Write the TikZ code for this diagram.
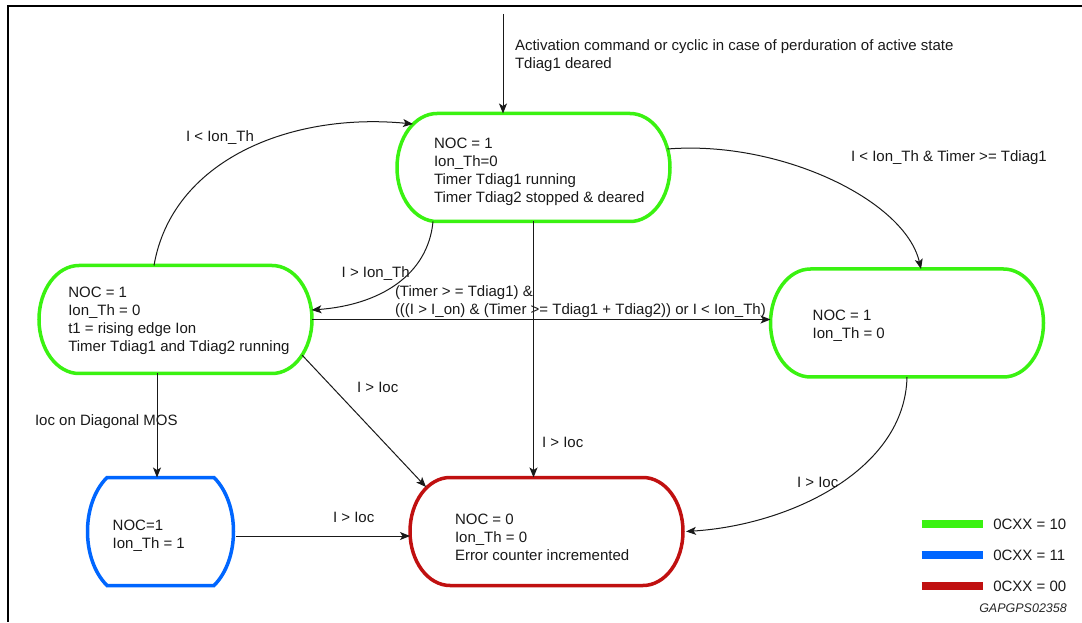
\documentclass[tikz,border=0pt]{standalone}
\usepackage{fontspec}
\setmainfont{Liberation Sans}
\usetikzlibrary{arrows.meta,calc}
\definecolor{stgreen}{RGB}{58,242,17}
\definecolor{stblue}{RGB}{0,102,255}
\definecolor{stred}{RGB}{192,16,16}
\newcommand\firststrut{\vrule height 12pt width 0pt depth 0pt\relax}
\newcommand\stadiumpath[2]{%
 \draw[line width=3.5pt,#2] ([xshift=40pt]#1.north west) -- ([xshift=-40pt]#1.north east)
   arc[start angle=90,end angle=-90,x radius=40pt,y radius=54pt]
   -- ([xshift=40pt]#1.south west)
   arc[start angle=270,end angle=90,x radius=40pt,y radius=54pt] -- cycle;}
\begin{document}
\begin{tikzpicture}[x=1pt,y=1pt,
  shapebox/.style={rectangle,minimum width=273pt,minimum height=108pt,inner sep=0pt,outer sep=0pt},
  txt/.style={font=\fontsize{15}{18}\selectfont,inner sep=0pt,outer sep=0pt,align=left,text=black!90},
  conn/.style={line width=1pt,draw=black!90,-{Stealth[length=10pt,width=8pt,inset=2.5pt]}},
  legbar/.style={line width=8pt}]
\useasboundingbox (0,0) rectangle (1082,622);
% frame
\draw[line width=2pt] (1082,616) -- (8,616) -- (8,0);
% state boxes
\node[shapebox] (s0) at (533.5,454.5) {};
\node[shapebox] (s1) at (175.5,302.5) {};
\node[shapebox] (s2) at (907,299) {};
\node[shapebox,minimum width=151pt] (s3) at (160.5,90.5) {};
\node[shapebox] (s4) at (546.5,90.5) {};
\stadiumpath{s0}{stgreen}
\stadiumpath{s1}{stgreen}
\stadiumpath{s2}{stgreen}
\stadiumpath{s4}{stred}
\draw[line width=3.5pt,stblue] ([xshift=22pt]s3.north west) -- ([xshift=-22pt]s3.north east)
  .. controls ([xshift=4pt,yshift=-26pt]s3.north east) and ([xshift=4pt,yshift=26pt]s3.south east) .. ([xshift=-22pt]s3.south east)
  -- ([xshift=22pt]s3.south west)
  .. controls ([xshift=-4pt,yshift=26pt]s3.south west) and ([xshift=-4pt,yshift=-26pt]s3.north west) .. cycle;
% state texts
\node[txt,anchor=north west] (s0t) at (434,485.9) {\firststrut NOC = 1\\Ion\_Th=0\\Timer Tdiag1 running\\Timer Tdiag2 stopped \& deared};
\node[txt,anchor=north west] (s1t) at (68.3,336.9) {\firststrut NOC = 1\\Ion\_Th = 0\\t1 = rising edge Ion\\Timer Tdiag1 and Tdiag2 running};
\node[txt,anchor=north west] (s2t) at (812.7,313.6) {\firststrut NOC = 1\\Ion\_Th = 0};
\node[txt,anchor=north west] (s3t) at (112.7,103.6) {\firststrut NOC=1\\Ion\_Th = 1};
\node[txt,anchor=north west] (s4t) at (455,109.6) {\firststrut NOC = 0\\Ion\_Th = 0\\Error counter incremented};
% entry
\coordinate (entry) at (503,608);
\draw[conn] (entry) -- (entry |- s0.north);
\node[txt,anchor=north west] (lact) at (515,583.6) {\firststrut Activation command or cyclic in case of perduration of active state\\Tdiag1 deared};
% transitions
\draw[conn] ([xshift=-21.5pt]s1.north) .. controls +(18,105) and +(-123,12) .. ([xshift=-120.5pt,yshift=43.5pt]s0.center);
\node[txt,anchor=base west] (l1) at (186,480.6) {I < Ion\_Th};
\draw[conn] ([xshift=134pt,yshift=18.5pt]s0.center) .. controls +(112,9) and +(-16,69) .. ([xshift=14pt]s2.north);
\node[txt,anchor=base west] (l2) at (851,460.6) {I < Ion\_Th \& Timer >= Tdiag1};
\draw[conn] ([xshift=-100.5pt]s0.south) .. controls +(-5,-53.5) and +(68.5,5) .. ([xshift=136pt,yshift=9.5pt]s1.center);
\node[txt,anchor=base west] (l3) at (341.7,344.9) {I > Ion\_Th};
\draw[conn] (s1.east) -- (s1.east -| s2.west);
\node[txt,anchor=north west] (l4) at (395,337.9) {\firststrut (Timer > = Tdiag1) \&\\(((I > I\_on) \& (Timer >= Tdiag1 + Tdiag2)) or I < Ion\_Th)};
\draw[conn] (s0.south) -- (s0.south |- s4.north);
\node[txt,anchor=base west] (l5) at (542,174.6) {I > Ioc};
\coordinate (s3top) at ([xshift=-3.5pt]s3.north);
\draw[conn] (s3top |- s1.south) -- (s3top);
\node[txt,anchor=base west] (l6) at (35,196.6) {Ioc on Diagonal MOS};
\draw[conn] ([xshift=126.5pt,yshift=-35.5pt]s1.center) -- ([xshift=-120.5pt,yshift=44.5pt]s4.center);
\node[txt,anchor=base west] (l7) at (357,229.6) {I > Ioc};
\coordinate (s3r) at ([yshift=-4.5pt]s3.east);
\draw[conn] (s3r) -- (s3r -| s4.west);
\node[txt,anchor=base west] (l8) at (333,100) {I > Ioc};
\draw[conn] (s2.south) .. controls +(-2,-93) and +(104,6.5) .. ([xshift=3pt]s4.east);
\node[txt,anchor=base west] (l9) at (797,134.6) {I > Ioc};
% legend
\draw[legbar,stgreen] (921.7,98) -- (982.7,98);
\draw[legbar,stblue] (921.7,66.7) -- (982.7,66.7);
\draw[legbar,stred] (921.7,36) -- (982.7,36);
\node[txt,anchor=base west] (lg1) at (993.3,92.6) {0CXX = 10};
\node[txt,anchor=base west] (lg2) at (993.3,61.3) {0CXX = 11};
\node[txt,anchor=base west] (lg3) at (993.3,30.6) {0CXX = 00};
\node[font=\fontsize{12.5}{15}\selectfont\itshape,text=black!85,inner sep=0pt,anchor=base east] (code) at (1067,9.2) {GAPGPS02358};
\end{tikzpicture}
\end{document}
